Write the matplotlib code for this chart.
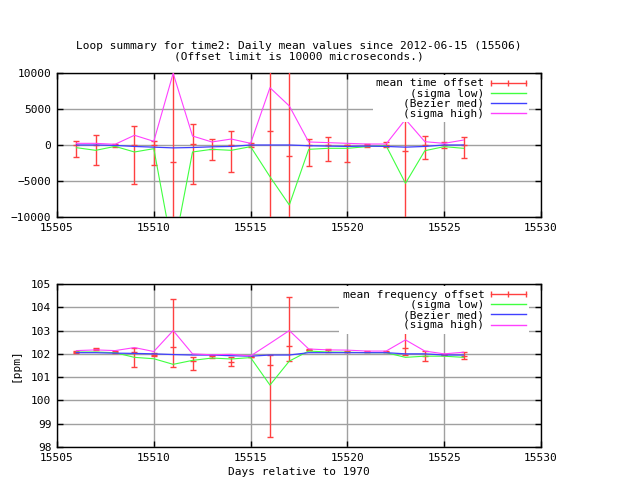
import numpy as np
import matplotlib
matplotlib.use("Agg")
import matplotlib.pyplot as plt
from matplotlib.lines import Line2D
from matplotlib.legend_handler import HandlerLine2D

plt.rcParams['font.family'] = ['DejaVu Sans Mono']
plt.rcParams['font.size'] = 8

days = np.arange(15506, 15527)

# time offset (microseconds)
t_mean = [-50, 0, 0, 50, 0, -2400, 100, -500, 0, 0, 1900, -1530, 0, 0, 0, 0, 0, -830, 0, 0, 0]
t_err_low = [-1710, -2820, -280, -5420, -2730, -20000, -5460, -2130, -3800, -280, -12000,
             -15000, -2960, -2270, -2400, -280, -300, -12000, -1990, -370, -1850]
t_err_high = [600, 1350, 140, 2690, 510, 15000, 2870, 830, 1900, 280, 13000,
              12000, 790, 1110, 0, 180, 400, 7260, 1200, 370, 1070]
t_sig_low = [-370, -740, -190, -970, -510, -15000, -970, -600, -740, -230, -4400,
             -8330, -600, -460, -460, -230, -100, -5320, -790, -230, -460]
t_med = [0, 0, -50, -200, -300, -400, -350, -250, -200, 0, 0,
         0, -100, -150, -200, -150, -200, -300, -200, 0, 0]
t_sig_high = [230, 230, 100, 1350, 510, 9960, 1250, 420, 830, 230, 7960,
              5420, 420, 330, 230, 140, 140, 3560, 460, 230, 690]

# frequency offset (ppm)
f_mean = [102.09, 102.19, 102.10, 102.10, 101.97, 102.28, 101.70, 101.89, 101.65, 101.88, 101.51,
          102.32, 102.18, 102.15, 102.10, 102.10, 102.10, 102.24, 101.90, 101.97, 101.92]
f_err_low = [102.03, 102.15, 102.05, 101.42, 101.92, 101.42, 101.29, 101.84, 101.46, 101.85, 98.42,
             101.68, 102.15, 102.08, 102.06, 102.06, 102.06, 101.95, 101.69, 101.94, 101.77]
f_err_high = [102.13, 102.25, 102.14, 102.26, 102.03, 104.34, 101.85, 101.94, 101.85, 101.91, 101.95,
              104.43, 102.21, 102.20, 102.14, 102.14, 102.14, 103.27, 102.12, 102.00, 102.08]
f_sig_low = [102.08, 102.08, 102.05, 101.85, 101.79, 101.55, 101.72, 101.82, 101.78, 101.84, 100.66,
             101.69, 102.12, 102.08, 102.07, 102.05, 102.05, 101.85, 101.90, 101.90, 101.85]
f_med = [102.05, 102.05, 102.03, 102.02, 102.0, 101.97, 101.95, 101.95, 101.92, 101.9, 101.95,
         101.95, 102.05, 102.05, 102.05, 102.05, 102.05, 102.0, 102.0, 101.95, 101.95]
f_sig_high = [102.14, 102.17, 102.14, 102.27, 102.10, 103.0, 102.0, 101.96, 101.98, 101.91, 102.45,
              103.0, 102.21, 102.17, 102.16, 102.12, 102.12, 102.6, 102.12, 102.0, 102.07]

RED, GREEN, BLUE, MAGENTA = '#ff4040', '#40ff40', '#4040ff', '#ff40ff'
GRID = '#a0a0a0'


def draw_panel(ax, mean, elo, ehi, slo, med, shi, label, ylim, yticks):
    mean = np.array(mean)
    yerr = [mean - np.array(elo), np.array(ehi) - mean]
    ax.errorbar(days, mean, yerr=yerr, fmt='_', color=RED, ecolor=RED,
                elinewidth=1.0, capsize=2.5, capthick=1.0, markersize=5, mew=1.0, zorder=3)
    ax.plot(days, slo, color=GREEN, lw=0.8, zorder=4)
    ax.plot(days, med, color=BLUE, lw=0.9, zorder=4)
    ax.plot(days, shi, color=MAGENTA, lw=0.8, zorder=4)
    ax.set_xlim(15505, 15530)
    ax.set_xticks(np.arange(15505, 15531, 5))
    ax.set_ylim(*ylim)
    ax.set_yticks(yticks)
    ax.grid(True, color=GRID, lw=1.0)
    ax.set_axisbelow(True)
    ax.tick_params(direction='in', length=4, width=1.0, top=True, right=True, pad=4)
    for s in ax.spines.values():
        s.set_linewidth(1.0)
    proxy_err = Line2D([], [], color=RED, lw=1.0, marker='|', markersize=5, mew=1.0)
    proxies = [proxy_err,
               Line2D([], [], color=GREEN, lw=1.0),
               Line2D([], [], color=BLUE, lw=1.0),
               Line2D([], [], color=MAGENTA, lw=1.0)]
    labels = [label, '(sigma low)', '(Bezier med)', '(sigma high)']
    leg = ax.legend(proxies, labels, loc='upper right', bbox_to_anchor=(0.975, 0.985),
                    markerfirst=False, handlelength=3.1, handletextpad=0.6,
                    labelspacing=0.02, borderpad=0.3, borderaxespad=0,
                    frameon=True, fancybox=False, framealpha=1.0,
                    handler_map={proxy_err: HandlerLine2D(numpoints=3, marker_pad=0)})
    leg.get_frame().set_edgecolor('none')
    leg.get_frame().set_facecolor('white')
    leg.set_zorder(5)


fig = plt.figure(figsize=(6.4, 4.8), dpi=100)
ax1 = fig.add_axes([57 / 640, 1 - 217 / 480, 484 / 640, 144 / 480])
ax2 = fig.add_axes([57 / 640, 1 - 447 / 480, 484 / 640, 163 / 480])

draw_panel(ax1, t_mean, t_err_low, t_err_high, t_sig_low, t_med, t_sig_high,
           'mean time offset', (-10000, 10000), np.arange(-10000, 10001, 5000))
draw_panel(ax2, f_mean, f_err_low, f_err_high, f_sig_low, f_med, f_sig_high,
           'mean frequency offset', (98, 105), np.arange(98, 106, 1))

ax2.set_xlabel('Days relative to 1970', labelpad=3)
ax2.set_ylabel('[ppm]', labelpad=8)

cx = (57 + 541) / 2 / 640
fig.text(cx, 1 - 45.7 / 480, 'Loop summary for time2: Daily mean values since 2012-06-15 (15506)',
         ha='center', va='center')
fig.text(cx, 1 - 56.3 / 480, '(Offset limit is 10000 microseconds.)', ha='center', va='center')

fig.savefig('out.png', dpi=100)
